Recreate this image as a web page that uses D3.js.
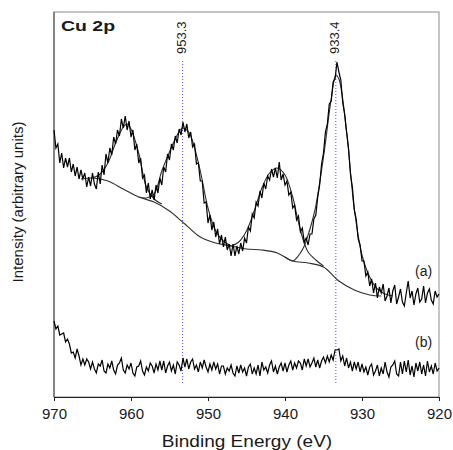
<!DOCTYPE html>
<html>
<head>
<meta charset="utf-8">
<script src="https://cdn.jsdelivr.net/npm/d3@7"></script>
<style>
  body { margin: 0; background: #fff; }
  text { font-family: "Liberation Sans", Arial, sans-serif; fill: #1a1a1a; }
</style>
</head>
<body>
<div id="chart"></div>
<script>
// binding energy grid of the scans (eV), first point and step
var energyStart = 970;
var energyStep = 0.25;

// spectrum (a), one value per 0.25 eV from 970 down to 920
var seriesA = [
  267,249,253,234, 244,229,239,230, 239,225,233,221, 230,218,227,218,
  224,210,220,211, 224,213,208,225, 213,232,222,243, 234,249,242,260,
  253,267,261,278, 269,281,267,276, 260,267,247,253, 234,239,219,222,
  204,214,198,207, 197,212,204,219, 212,230,225,243, 237,253,247,261,
  254,268,262,275, 265,273,259,265, 250,253,233,234, 216,216,194,195,
  174,182,167,175, 160,168,153,162, 150,160,147,153, 141,153,141,151,
  143,154,146,159, 154,170,166,183, 179,195,191,206, 199,214,208,221,
  217,228,220,229, 219,235,217,223, 212,216,202,205, 189,192,177,181,
  165,169,155,159, 152,163,163,178, 182,200,212,233, 244,265,273,293,
  296,315,318,335, 325,317,294,283, 265,249,223,210, 187,178,158,152,
  136,136,121,125, 111,118,104,114, 99,110,104,113, 96,101,109,94,
  106,112,93,100, 108,95,91,104, 116,99,106,92, 103,109,95,98,
  111,94,104,108, 97,93,106,100, 103
];

// spectrum (b), same grid
var seriesB = [
  76,68,71,62, 63,64,55,58, 53,44,45,39, 48,41,32,38,
  32,38,35,28, 35,28,24,33, 31,37,26,24, 33,29,36,27,
  23,32,34,39, 27,24,32,28, 34,24,21,30, 31,36,26,22,
  30,26,34,31, 24,33,27,36, 27,36,24,31, 35,26,32,23,
  35,32,26,39, 30,38,28,35, 38,28,32,25, 35,29,37,30,
  25,33,27,35, 28,33,23,31, 31,23,29,26, 32,24,21,31,
  24,32,25,29, 21,30,33,23, 29,23,32,21, 35,27,30,24,
  32,36,25,31, 23,30,34,26, 34,25,32,36, 27,34,29,36,
  34,27,38,31, 38,30,34,39, 30,37,29,36, 40,34,41,35,
  42,37,47,47, 48,36,41,31, 39,29,35,26, 35,28,35,25,
  33,25,30,22, 30,33,22,26, 32,21,29,23, 35,25,20,30,
  32,36,23,21, 35,23,36,25, 37,22,31,20, 34,26,35,23,
  32,21,36,25, 31,23,34,26, 29
];

// fitted background
var bgEnergy = [966.5, 965, 963, 961, 959, 957, 955, 953, 951, 949, 947, 945, 943, 941, 939, 937, 935, 933, 931, 929, 927.5];
var bgIntensity = [218, 219, 216, 208, 200, 195, 186, 173, 160, 154, 151, 148, 147, 144, 136, 134, 130, 116, 107, 102, 101];

// fitted components (background + peak)
var fitSat1Energy = [965, 964, 963, 962, 961, 960.5, 960, 959, 958, 957, 956];
var fitSat1Intensity = [219, 223, 234, 254, 270, 273, 268, 244, 210, 198, 193];
var fit2p1Energy = [959, 958, 957, 956, 955, 954, 953.3, 952.5, 952, 951, 950, 949, 948, 947];
var fit2p1Intensity = [200, 199, 203, 226, 245, 262, 269, 265, 256, 226, 189, 166, 156, 151];
var fitSat2Energy = [947, 946, 945, 944, 943, 942, 941, 940, 939, 938.5, 938, 937.5, 937, 936, 935];
var fitSat2Intensity = [151, 155, 166, 186, 209, 224, 229, 222, 200, 183, 167, 154, 145, 137, 131];
var fit2p3Energy = [940, 939, 938.5, 938, 937.5, 937, 936.5, 936, 935, 934, 933.4, 933, 932, 931, 930, 929, 928, 927, 926];
var fit2p3Intensity = [140, 136, 139, 144, 151, 162, 175, 191, 240, 298, 322, 318, 265, 188, 142, 120, 108, 103, 101];

// marked peak positions and axis ticks
var peakPositions = [953.3, 933.4];
var xTicks = [970, 960, 950, 940, 930, 920];

function init() {
    var w = 453;
    var h = 450;
    var margin = {top: 12, right: 14, bottom: 53, left: 54};
    var innerW = w - margin.left - margin.right;
    var innerH = h - margin.top - margin.bottom;

    var x = d3.scaleLinear().domain([970, 920]).range([0, innerW]);
    var y = d3.scaleLinear().domain([0, 385]).range([innerH, 0]);

    function zip(es, vs) {
        return es.map(function(e, i) { return [e, vs[i]]; });
    }
    function onGrid(vs) {
        return vs.map(function(v, i) { return [energyStart - i * energyStep, v]; });
    }

    var svg = d3.select("#chart")
                .append("svg")
                .attr("width", w)
                .attr("height", h);

    var g = svg.append("g")
               .attr("transform", "translate(" + margin.left + "," + margin.top + ")");

    // frame
    g.append("rect")
        .attr("width", innerW)
        .attr("height", innerH)
        .attr("fill", "none")
        .attr("stroke", "#8c8c8c");
    g.append("line")
        .attr("x1", 0).attr("x2", 0)
        .attr("y1", 0).attr("y2", innerH)
        .attr("stroke", "#444");

    // peak markers
    g.selectAll("line.peak")
        .data(peakPositions)
        .enter()
        .append("line")
        .attr("class", "peak")
        .attr("x1", function(d) { return x(d); })
        .attr("x2", function(d) { return x(d); })
        .attr("y1", y(336))
        .attr("y2", y(12))
        .attr("stroke", "#4b4bf5")
        .attr("stroke-width", 1)
        .attr("stroke-dasharray", "1,2");

    g.selectAll("text.peak")
        .data(peakPositions)
        .enter()
        .append("text")
        .attr("class", "peak")
        .attr("transform", function(d) {
            return "translate(" + (x(d) + 3) + "," + 42 + ") rotate(-90)";
        })
        .style("font-size", "13px")
        .text(function(d) { return d.toFixed(1); });

    var line = d3.line()
                 .x(function(d) { return x(d[0]); })
                 .y(function(d) { return y(d[1]); });
    var smooth = d3.line()
                   .x(function(d) { return x(d[0]); })
                   .y(function(d) { return y(d[1]); })
                   .curve(d3.curveCatmullRom);

    // fitted curves
    var fits = [
        zip(bgEnergy, bgIntensity),
        zip(fitSat1Energy, fitSat1Intensity),
        zip(fit2p1Energy, fit2p1Intensity),
        zip(fitSat2Energy, fitSat2Intensity),
        zip(fit2p3Energy, fit2p3Intensity)
    ];
    g.selectAll("path.fit")
        .data(fits)
        .enter()
        .append("path")
        .attr("class", "fit")
        .attr("d", smooth)
        .attr("fill", "none")
        .attr("stroke", "#2e2e2e")
        .attr("stroke-width", 1.1);

    // measured spectra
    g.selectAll("path.spec")
        .data([onGrid(seriesA), onGrid(seriesB)])
        .enter()
        .append("path")
        .attr("class", "spec")
        .attr("d", line)
        .attr("fill", "none")
        .attr("stroke", "#000")
        .attr("stroke-width", 1.2);

    // x axis
    var xAxis = g.append("g")
        .attr("transform", "translate(0," + innerH + ")")
        .call(d3.axisBottom(x).tickValues(xTicks).tickSize(4).tickSizeOuter(0).tickFormat(d3.format("d")));
    xAxis.select(".domain").attr("stroke", "#222");
    xAxis.selectAll(".tick line").attr("stroke", "#222");
    xAxis.selectAll(".tick text")
        .attr("y", 11)
        .style("font-size", "15px")
        .style("font-family", "'Liberation Sans', Arial, sans-serif")
        .attr("fill", "#1a1a1a");

    // labels
    svg.append("text")
        .attr("transform", "translate(247,447) scale(1.19,1)")
        .attr("text-anchor", "middle")
        .style("font-size", "16px")
        .text("Binding Energy (eV)");

    svg.append("text")
        .attr("transform", "translate(23,202) rotate(-90)")
        .attr("text-anchor", "middle")
        .style("font-size", "15px")
        .text("Intensity (arbitrary units)");

    svg.append("text")
        .attr("transform", "translate(61,31) scale(1.3,1)")
        .style("font-size", "15px")
        .style("font-weight", "bold")
        .text("Cu 2p");

    svg.append("text")
        .attr("x", 415).attr("y", 276)
        .style("font-size", "14px")
        .text("(a)");
    svg.append("text")
        .attr("x", 415).attr("y", 347)
        .style("font-size", "14px")
        .text("(b)");
}
window.onload = init;
</script>
</body>
</html>
